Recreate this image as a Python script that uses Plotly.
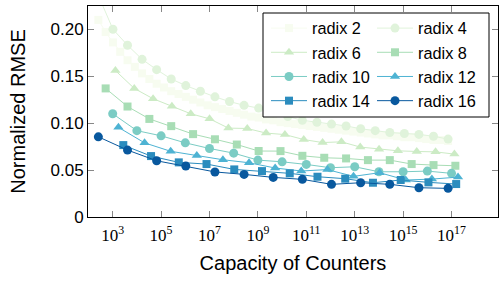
import plotly.graph_objects as go

# ---------------- data ----------------
radices = [2, 4, 6, 8, 10, 12, 14, 16]
names = ["radix 2", "radix 4", "radix 6", "radix 8", "radix 10", "radix 12", "radix 14", "radix 16"]
colors = ["#f7fcf0", "#e0f3db", "#ccebc5", "#a8ddb5", "#7bccc4", "#4eb3d3", "#2b8cbe", "#08589e"]
symbols = ["square", "circle", "triangle-up", "square", "circle", "triangle-up", "square", "circle"]

# first exponent k of capacity = radix**k for each series
k_start = [8, 4, 4, 3, 3, 3, 3, 2]

rmse_r2 = [0.210, 0.197, 0.186, 0.176, 0.167, 0.160, 0.153, 0.147, 0.142, 0.138,
           0.134, 0.131, 0.128, 0.125, 0.122, 0.119, 0.117, 0.115, 0.113, 0.111,
           0.109, 0.107, 0.106, 0.104, 0.103, 0.101, 0.100, 0.099, 0.098, 0.097,
           0.096, 0.095, 0.094, 0.093, 0.092, 0.091, 0.090, 0.089, 0.088, 0.087,
           0.087, 0.086, 0.085, 0.085, 0.084, 0.083, 0.082, 0.082, 0.081]
rmse_r4 = [0.236, 0.200, 0.183, 0.168, 0.157, 0.147, 0.140, 0.134, 0.128, 0.123,
           0.119, 0.116, 0.111, 0.107, 0.103, 0.101, 0.099, 0.097, 0.094, 0.092,
           0.090, 0.089, 0.088, 0.086, 0.083]
rmse_r6 = [0.156, 0.137, 0.126, 0.118, 0.110, 0.1046, 0.0947, 0.0943, 0.0894, 0.0878,
           0.0825, 0.0793, 0.0801, 0.0745, 0.0723, 0.0705, 0.0698, 0.0694, 0.0670]
rmse_r8 = [0.137, 0.1177, 0.1045, 0.0968, 0.0883, 0.0828, 0.0772, 0.0703, 0.0702,
           0.0652, 0.0631, 0.0624, 0.0606, 0.0606, 0.0564, 0.0553, 0.0546]
rmse_r10 = [0.110, 0.092, 0.0865, 0.079, 0.073, 0.068, 0.0606, 0.0588, 0.056,
            0.0525, 0.0535, 0.0482, 0.0482, 0.0489, 0.0465]
rmse_r12 = [0.0955, 0.079, 0.0700, 0.0655, 0.0610, 0.0578, 0.0522, 0.0490, 0.0505,
            0.0433, 0.0472, 0.0394, 0.0404, 0.0425]
rmse_r14 = [0.0766, 0.0649, 0.0582, 0.0564, 0.0507, 0.0489, 0.0465, 0.0429, 0.0408,
            0.0365, 0.0394, 0.0369, 0.0351]
rmse_r16 = [0.0854, 0.0713, 0.0599, 0.0543, 0.0480, 0.0454, 0.0422, 0.0401, 0.0348,
            0.0365, 0.0348, 0.0312, 0.0305]

series = [rmse_r2, rmse_r4, rmse_r6, rmse_r8, rmse_r10, rmse_r12, rmse_r14, rmse_r16]

x_tick_exps = [3, 5, 7, 9, 11, 13, 15, 17]
y_ticks = [0, 0.05, 0.10, 0.15, 0.20]
y_tick_text = ["0", "0.05", "0.10", "0.15", "0.20"]

# ---------------- figure ----------------
fig = go.Figure()
sizes = {"circle": 9, "square": 8, "triangle-up": 9}
for i, (r, name, c, sym, k0, vals) in enumerate(zip(radices, names, colors, symbols, k_start, series)):
    xs = [float(r) ** (k0 + j) for j in range(len(vals))]
    fig.add_trace(go.Scatter(
        x=xs, y=vals, name=name, mode="lines+markers",
        line=dict(color=c, width=1),
        marker=dict(symbol=sym, color=c, size=sizes[sym], line=dict(width=0)),
        legend="legend" if i % 2 == 0 else "legend2",
    ))

L, R, T, B = 88, 1, 6, 66
W, H = 499, 283
pw, ph = W - L - R, H - T - B

def px_x(p):
    return (p - L) / pw

def px_y(p):
    return (H - B - p) / ph

legend_common = dict(
    orientation="v", xanchor="left", yanchor="top",
    bgcolor="rgba(0,0,0,0)", borderwidth=0,
    font=dict(family="Liberation Sans, Arial, sans-serif", size=16.3, color="black"),
    tracegroupgap=0, itemwidth=36,
)

fig.update_layout(
    width=W, height=H,
    margin=dict(l=L, r=R, t=T, b=B),
    paper_bgcolor="white", plot_bgcolor="white",
    font=dict(family="Liberation Sans, Arial, sans-serif", size=17, color="black"),
    legend=dict(x=px_x(266), y=px_y(11), **legend_common),
    legend2=dict(x=px_x(372), y=px_y(11), **legend_common),
    shapes=[dict(type="rect", xref="paper", yref="paper",
                 x0=px_x(263), x1=px_x(489), y0=px_y(117), y1=px_y(13),
                 fillcolor="white", line=dict(color="black", width=1), layer="above")],
)

fig.update_xaxes(
    type="log", range=[1.98, 18.92],
    tickvals=[10.0 ** e for e in x_tick_exps],
    ticktext=["10<sup>%d</sup>" % e for e in x_tick_exps],
    tickfont=dict(family="Liberation Serif, Times New Roman, serif", size=17),
    ticks="inside", ticklen=6, tickcolor="#888", tickwidth=1,
    ticklabelstandoff=3,
    showline=True, linecolor="black", linewidth=1, mirror="ticks",
    showgrid=False, zeroline=False,
    title=dict(text="Capacity of Counters", font=dict(size=20), standoff=11),
)
fig.update_yaxes(
    range=[0, 0.2248],
    tickvals=y_ticks, ticktext=y_tick_text,
    ticks="inside", ticklen=6, tickcolor="#888", tickwidth=1,
    showline=True, linecolor="black", linewidth=1, mirror="ticks",
    showgrid=False, zeroline=False,
    title=dict(text="Normalized RMSE", font=dict(size=20), standoff=19),
)

fig.write_html("out.html", config={"displayModeBar": False},
               post_script="document.body.style.margin='0';")
